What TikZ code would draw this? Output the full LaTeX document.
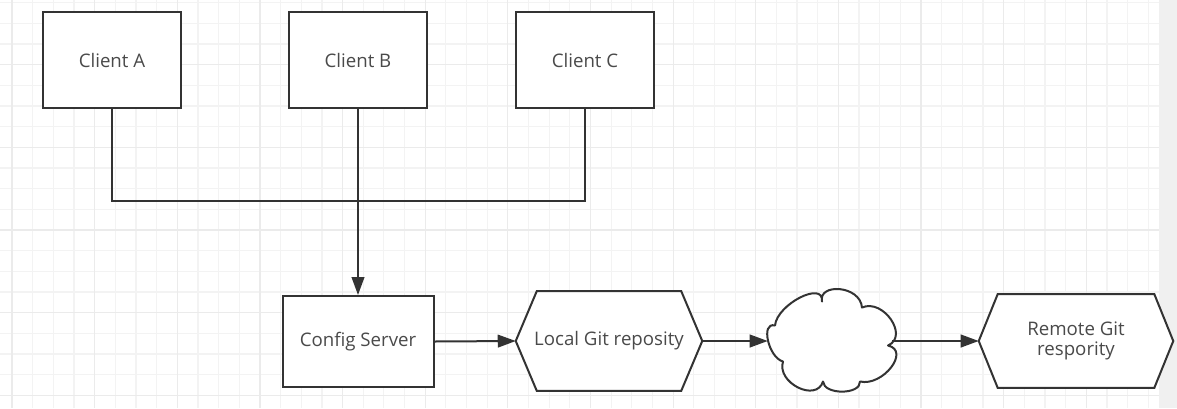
\documentclass[tikz,border=0pt]{standalone}
\usepackage{fontspec}
\setmainfont{Open Sans}
\usetikzlibrary{arrows.meta}
\definecolor{ln}{HTML}{333333}
\definecolor{txt}{HTML}{4A4A4A}
\definecolor{gmin}{HTML}{F3F3F3}
\definecolor{gmaj}{HTML}{EBEBEB}
\definecolor{stripc}{HTML}{F0F0F0}
\begin{document}
\begin{tikzpicture}[x=0.75pt,y=-0.75pt,
  shapeline/.style={draw=ln,line width=1.5pt,fill=white,line join=miter},
  lbl/.style={text=txt,font=\fontsize{14}{15}\selectfont,align=center,inner sep=0pt},
  box/.style 2 args={shapeline,lbl,minimum width={#1*0.75pt},minimum height={#2*0.75pt}},
  ghost/.style 2 args={draw=none,inner sep=0pt,minimum width={#1*0.75pt},minimum height={#2*0.75pt}},
  conn/.style={draw=ln,line width=1.5pt},
  arr/.style={conn,-{Triangle[length=13.5pt,width=9.5pt]}},
  gminor/.style={draw=gmin,line width=0.9pt},
  gmajor/.style={draw=gmaj,line width=0.9pt}]
\useasboundingbox (0,0) rectangle (1177,408);
\fill[white] (0,0) rectangle (1177,408);
% grid
\foreach \k in {0,...,55} {\draw[gminor] ({12+20.66*\k},0) -- ({12+20.66*\k},408);}
\foreach \k in {0,...,19} {\draw[gminor] (0,{2.74+20.66*\k}) -- (1159,{2.74+20.66*\k});}
\foreach \k in {0,4,...,52} {\draw[gmajor] ({12+20.66*\k},0) -- ({12+20.66*\k},408);}
\foreach \k in {3,7,...,19} {\draw[gmajor] (0,{2.74+20.66*\k}) -- (1159,{2.74+20.66*\k});}
\fill[stripc] (1159,0) rectangle (1177,408);
% clients
\node[box={138}{96}] (ca) at (112,60) {Client A};
\node[box={138}{96}] (cb) at (358,60) {Client B};
\node[box={138}{96}] (cc) at (585,60) {Client C};
% config server
\node[box={151}{91}] (cs) at (358,341.5) {Config Server};
% local git hexagon
\node[ghost={186}{99}] (lgit) at (609,341) {};
\draw[shapeline] (lgit.west) -- ([xshift=21*0.75pt]lgit.north west) -- ([xshift=-21*0.75pt]lgit.north east) -- (lgit.east) -- ([xshift=-21*0.75pt]lgit.south east) -- ([xshift=21*0.75pt]lgit.south west) -- cycle;
\node[lbl] (lgitt) at (lgit.center) {Local Git reposity};
% cloud
\node[ghost={124}{97}] (cloud) at (830,341) {};
\begin{scope}[shift={(cloud.center)}]
\draw[shapeline,line join=round] (-55,-15.5)
  .. controls (-53,-36.8) and (-6,-60.8) .. (-8,-39.5)
  .. controls (-12,-58) and (30,-56) .. (32,-33.5)
  .. controls (53.3,-42.8) and (79.3,-4.8) .. (58,4.5)
  .. controls (80.7,9.8) and (52.7,45.8) .. (30,40.5)
  .. controls (30.7,54) and (-6.3,54) .. (-7,40.5)
  .. controls (-13.7,61.8) and (-53.7,41.8) .. (-47,20.5)
  .. controls (-61.7,16.5) and (-69.7,-19.5) .. cycle;
\end{scope}
% remote git hexagon
\node[ghost={194}{93.4}] (rgit) at (1076,341) {};
\draw[shapeline] (rgit.west) -- ([xshift=19*0.75pt]rgit.north west) -- ([xshift=-19*0.75pt]rgit.north east) -- (rgit.east) -- ([xshift=-19*0.75pt]rgit.south east) -- ([xshift=19*0.75pt]rgit.south west) -- cycle;
\node[lbl] (rgitt) at (rgit.center) {Remote Git\\respority};
% connectors
\coordinate (j) at (cb.south |- 0,201);
\draw[conn] (ca.south) |- (j) -| (cc.south);
\draw[arr] (cb.south) -- (cs.north);
\draw[arr] (cs.east) -- (lgit.west);
\draw[arr] (lgit.east) -- (cloud.west);
\draw[arr] (cloud.east) -- (rgit.west);
\end{tikzpicture}
\end{document}
